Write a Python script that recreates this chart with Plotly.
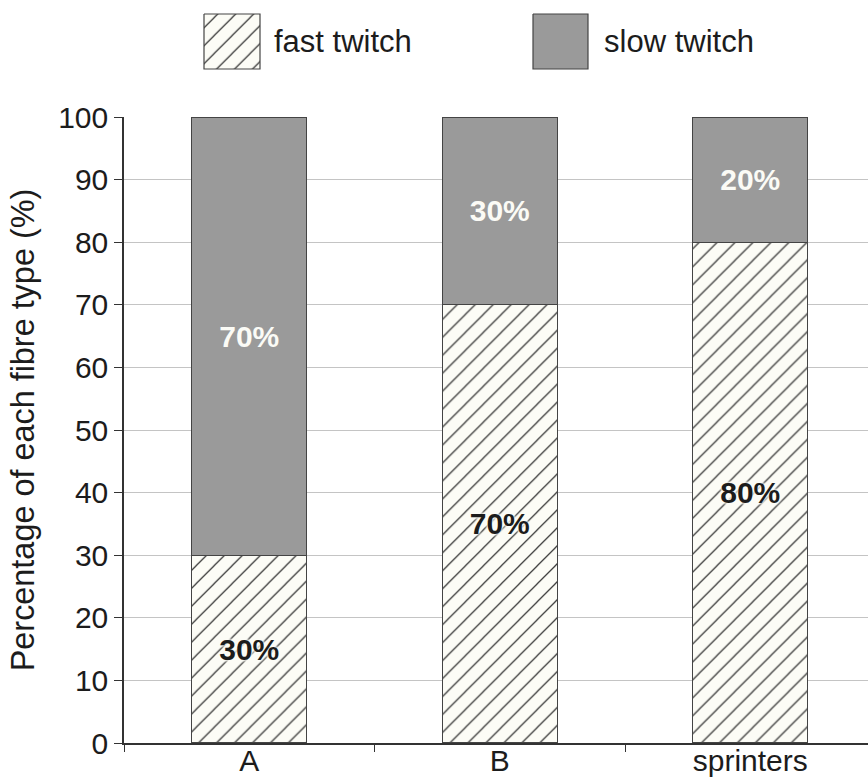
import plotly.graph_objects as go

# Muscle fibre composition per group (%)
groups = ["A", "B", "sprinters"]
fast_twitch = [30, 70, 80]
slow_twitch = [70, 30, 20]
series_names = ["fast twitch", "slow twitch"]
y_ticks = list(range(0, 101, 10))

FONT = "Liberation Sans, Arial, sans-serif"
INK = "#1c1c1c"
EDGE = "#444444"
SLOW_FILL = "#9a9a9a"
FAST_BG = "#fcfcf6"
HATCH = dict(shape="/", fgcolor="#3a3a3a", bgcolor=FAST_BG, size=12.7, solidity=0.1)

fig = go.Figure()

fig.add_trace(go.Bar(
    x=groups, y=fast_twitch, name=series_names[0],
    width=0.46,
    marker=dict(color=FAST_BG, pattern=HATCH, line=dict(color=EDGE, width=1.2)),
    text=[f"{v}%" for v in fast_twitch],
    textposition="inside", insidetextanchor="middle", textangle=0,
    constraintext="none",
    textfont=dict(family=FONT, size=30, color=INK, weight="bold",
                  shadow=f"0 0 3px {FAST_BG}, 0 0 3px {FAST_BG}, 0 0 4px {FAST_BG}"),
    showlegend=False,
))
fig.add_trace(go.Bar(
    x=groups, y=slow_twitch, name=series_names[1],
    width=0.46,
    marker=dict(color=SLOW_FILL, line=dict(color=EDGE, width=1.2)),
    text=[f"{v}%" for v in slow_twitch],
    textposition="inside", insidetextanchor="middle", textangle=0,
    constraintext="none",
    textfont=dict(family=FONT, size=30, color="#fbfbf6", weight="bold"),
    showlegend=False,
))

# Key drawn as large swatches on a pixel-scaled overlay axis
def swatch(x0, x1, y0, y1, **kw):
    return go.Scatter(
        x=[x0, x1, x1, x0, x0], y=[y0, y0, y1, y1, y0],
        xaxis="x2", yaxis="y2", mode="lines", fill="toself",
        line=dict(color=EDGE, width=1.2), hoverinfo="skip", showlegend=False, **kw)

fig.add_trace(swatch(204, 260, 14, 69, fillcolor=FAST_BG, fillpattern=HATCH))
fig.add_trace(swatch(533, 588, 14, 69, fillcolor=SLOW_FILL))
fig.add_annotation(x=272, y=41, xref="x2", yref="y2", text=series_names[0],
                   showarrow=False, xanchor="left", yanchor="middle",
                   font=dict(family=FONT, size=31, color=INK))
fig.add_annotation(x=602, y=41, xref="x2", yref="y2", text=series_names[1],
                   showarrow=False, xanchor="left", yanchor="middle",
                   font=dict(family=FONT, size=31, color=INK))

fig.update_layout(
    template="none",
    width=868, height=780,
    margin=dict(l=124, r=0, t=0, b=37, pad=0),
    paper_bgcolor="white", plot_bgcolor="white",
    barmode="stack", bargap=0.54,
    font=dict(family=FONT, color=INK),
    xaxis=dict(
        type="category", range=[-0.5, 2.47], domain=[0, 1], automargin=False,
        showline=True, linecolor="#333333", linewidth=1.5,
        ticks="outside", tickson="boundaries", ticklen=7, tickcolor="#333333",
        ticklabelstandoff=-10,
        tickfont=dict(family=FONT, size=30, color=INK),
        showgrid=False, zeroline=False,
    ),
    yaxis=dict(
        range=[0, 100], domain=[0, 626 / 743], automargin=False,
        tickvals=y_ticks, ticks="outside", ticklen=8, tickcolor="#333333",
        tickfont=dict(family=FONT, size=30, color=INK),
        showline=True, linecolor="#333333", linewidth=1.5,
        showgrid=True, gridcolor="#c4c4c4", gridwidth=1,
        zeroline=False,
        title=dict(text="Percentage of each fibre type (%)", standoff=14,
                   font=dict(family=FONT, size=32.4, color=INK)),
    ),
    xaxis2=dict(range=[124, 868], domain=[0, 1], anchor="y2", automargin=False,
                visible=False, fixedrange=True),
    yaxis2=dict(range=[74.3, 0], domain=[0.9, 1], anchor="x2", automargin=False,
                visible=False, fixedrange=True),
)

fig.write_html("out.html")
